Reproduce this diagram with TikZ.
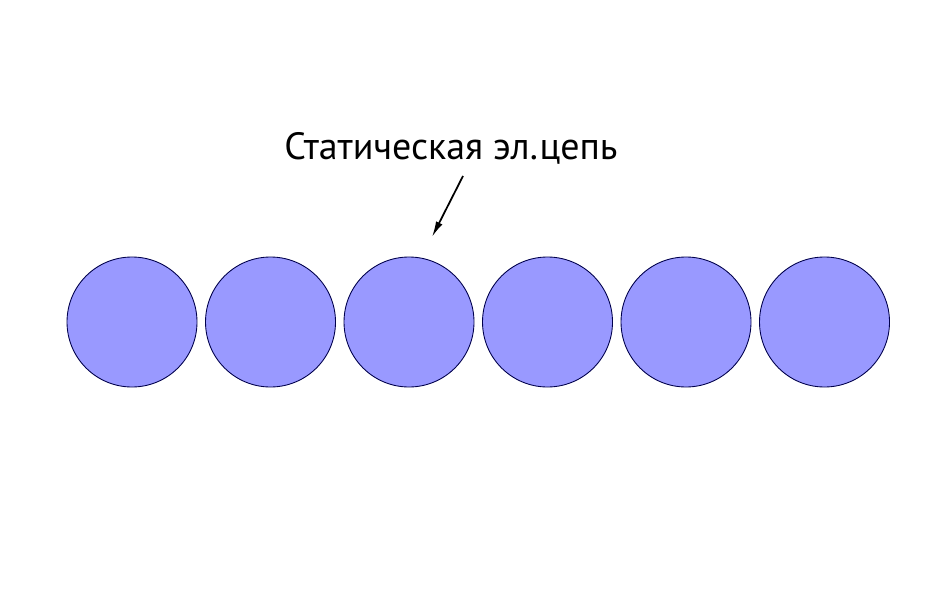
\documentclass[tikz,border=0pt]{standalone}
\usepackage{fontspec}
\setmainfont{PT Sans}
\usetikzlibrary{arrows.meta}

\begin{document}
\begin{tikzpicture}

    % marco del dibujo
    \useasboundingbox (0,0) rectangle (18.92,12.12);

    % esferas
    \foreach \i in {0,...,5}
        \node[circle, draw=blue!30!black, fill=blue!40, line width=0.5pt,
              minimum size=2.6cm, inner sep=0pt] (c\i) at (2.64+2.77*\i,5.68) {};

    % etiqueta
    \node[anchor=base, font=\fontsize{21.6}{25}\selectfont] (lab) at (9.02,8.92) {Статическая эл.цепь};

    % flecha
    \coordinate (a1) at (9.26,8.60);
    \coordinate (a2) at (8.64,7.38);
    \draw[line width=1pt, -{Latex[length=9pt,width=4pt]}] (a1) -- (a2);

\end{tikzpicture}
\end{document}
